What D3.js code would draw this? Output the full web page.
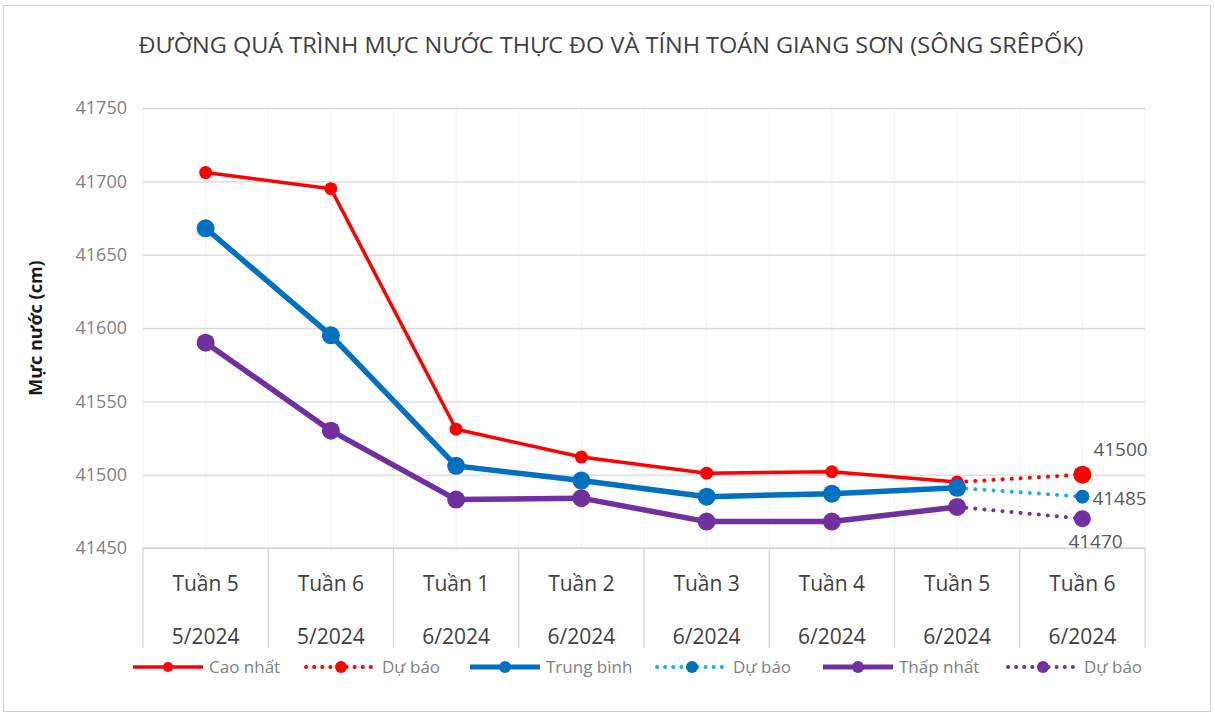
<!DOCTYPE html>
<html><head><meta charset="utf-8">
<script src="https://cdn.jsdelivr.net/npm/d3@7"></script>
<style>body{margin:0;background:#fff;font-family:"Open Sans",sans-serif}</style>
</head><body>
<svg id="c" width="1215" height="715"></svg>
<script>
const weeks = ["Tuần 5","Tuần 6","Tuần 1","Tuần 2","Tuần 3","Tuần 4","Tuần 5","Tuần 6"];
const months = ["5/2024","5/2024","6/2024","6/2024","6/2024","6/2024","6/2024","6/2024"];
const caoNhat = [41706,41695,41531,41512,41501,41502,41495,null];
const caoDuBao = [null,null,null,null,null,null,41495,41500];
const trungBinh = [41668,41595,41506,41496,41485,41487,41491,null];
const tbDuBao = [null,null,null,null,null,null,41491,41485];
const thapNhat = [41590,41530,41483,41484,41468,41468,41478,null];
const tnDuBao = [null,null,null,null,null,null,41478,41470];
const yTicks = [41450,41500,41550,41600,41650,41700,41750];
const title = "ĐƯỜNG QUÁ TRÌNH MỰC NƯỚC THỰC ĐO VÀ TÍNH TOÁN GIANG SƠN (SÔNG SRÊPỐK)";
const yTitle = "Mực nước (cm)";

const svg = d3.select("#c");
const L=143,R=1145,T=108,B=548;
const idx = d3.range(weeks.length);
const x = d3.scaleBand().domain(idx).range([L,R]);
const y = d3.scaleLinear().domain([41450,41750]).range([B,T]);
const cx = i => x(i)+x.bandwidth()/2;

svg.append("rect").attr("x",3.5).attr("y",5.5).attr("width",1207).attr("height",706)
  .attr("fill","#fff").attr("stroke","#d0d0d0");

const vg = [];
idx.forEach(i=>{vg.push(x(i)); vg.push(cx(i));}); vg.push(R);
svg.append("g").selectAll("line").data(vg).join("line")
  .attr("x1",d=>d).attr("x2",d=>d).attr("y1",T).attr("y2",B)
  .attr("stroke","#f3f3f3").attr("stroke-width",1);
const yAxis = d3.axisLeft(y).tickValues(yTicks).tickSize(-(R-L)).tickFormat(d3.format("d")).tickPadding(16);
const ga = svg.append("g").attr("transform",`translate(${L},0)`).call(yAxis);
ga.select(".domain").remove();
ga.selectAll(".tick line").attr("stroke","#d9d9d9").attr("stroke-width",1.3);
ga.selectAll(".tick text").attr("fill","#7f7f7f").attr("font-size",18).attr("font-family","Open Sans");

const bounds = idx.map(i=>x(i)).concat([R]);
svg.append("g").selectAll("line").data(bounds).join("line")
  .attr("x1",d=>d).attr("x2",d=>d).attr("y1",B).attr("y2",648)
  .attr("stroke","#d9d9d9").attr("stroke-width",1.3);
svg.append("line").attr("x1",L).attr("x2",R).attr("y1",B).attr("y2",B).attr("stroke","#d9d9d9").attr("stroke-width",1.3);

const xl = svg.append("g");
xl.selectAll(".w").data(idx).join("text").attr("x",cx).attr("y",591).attr("text-anchor","middle")
  .attr("font-size",21).attr("fill","#404040").text(i=>weeks[i]);
xl.selectAll(".m").data(idx).join("text").attr("x",cx).attr("y",644).attr("text-anchor","middle")
  .attr("font-size",21).attr("fill","#404040").text(i=>months[i]);

svg.append("text").attr("x",611).attr("y",53).attr("text-anchor","middle")
  .attr("font-size",21).attr("fill","#404040").attr("font-family","Open Sans")
  .attr("textLength",945).attr("lengthAdjust","spacingAndGlyphs").text(title);
svg.append("text").attr("transform","translate(42,328) rotate(-90)").attr("text-anchor","middle")
  .attr("font-size",18).attr("font-weight","bold").attr("fill","#1a1a1a").text(yTitle);

function series(vals,color,w,dash){
  const pts = idx.filter(i=>vals[i]!=null).map(i=>[cx(i),y(vals[i])]);
  const p = svg.append("path").attr("d",d3.line()(pts)).attr("fill","none").attr("stroke",color)
    .attr("stroke-width",w).attr("stroke-linejoin","round");
  if(dash) p.attr("stroke-dasharray",dash).attr("stroke-linecap","round");
  return pts;
}
function markers(pts,color,r){
  svg.append("g").selectAll("circle").data(pts).join("circle")
    .attr("cx",d=>d[0]).attr("cy",d=>d[1]).attr("r",r).attr("fill",color);
}
const red="#ff0000", blue="#0070c0", lblue="#20b0e0", purple="#7030a0";
const pCD = series(caoDuBao,red,4,"0.1 9");
const pTD = series(tbDuBao,lblue,4,"0.1 9");
const pND = series(tnDuBao,purple,4,"0.1 9");
const pC = series(caoNhat,red,3.5);
markers(pC,red,6.5);
const pN = series(thapNhat,purple,5.5);
markers(pN,purple,9);
const pT = series(trungBinh,blue,5.5);
markers(pT,blue,9);
markers([pCD[1]],red,9);
markers([pTD[1]],blue,7);
markers([pND[1]],purple,8.5);

const lab = svg.append("g").attr("font-size",19).attr("fill","#595959");
lab.append("text").attr("x",pCD[1][0]+11).attr("y",pCD[1][1]-19).text(caoDuBao[7]);
lab.append("text").attr("x",pTD[1][0]+10).attr("y",pTD[1][1]+8).text(tbDuBao[7]);
lab.append("text").attr("x",pND[1][0]-14).attr("y",pND[1][1]+29).text(tnDuBao[7]);

const leg = [
  {t:"Cao nhất",c:red,w:3.5,r:5,dash:null,x:133,mc:red},
  {t:"Dự báo",c:red,w:4,r:6,dash:"0.1 8",x:306,mc:red},
  {t:"Trung bình",c:blue,w:5,r:6,dash:null,x:470,mc:blue},
  {t:"Dự báo",c:lblue,w:4,r:6,dash:"0.1 8",x:657,mc:blue},
  {t:"Thấp nhất",c:purple,w:5,r:6,dash:null,x:823,mc:purple},
  {t:"Dự báo",c:purple,w:4,r:6,dash:"0.1 8",x:1008,mc:purple}
];
const lg = svg.append("g");
leg.forEach(d=>{
  const l = lg.append("line").attr("x1",d.x).attr("x2",d.x+70).attr("y1",667).attr("y2",667)
    .attr("stroke",d.c).attr("stroke-width",d.w);
  if(d.dash) l.attr("stroke-dasharray",d.dash).attr("stroke-linecap","round");
  lg.append("circle").attr("cx",d.x+35).attr("cy",667).attr("r",d.r).attr("fill",d.mc);
  lg.append("text").attr("x",d.x+76).attr("y",673).attr("font-size",17).attr("fill","#7f7f7f").text(d.t);
});
</script>
</body></html>
